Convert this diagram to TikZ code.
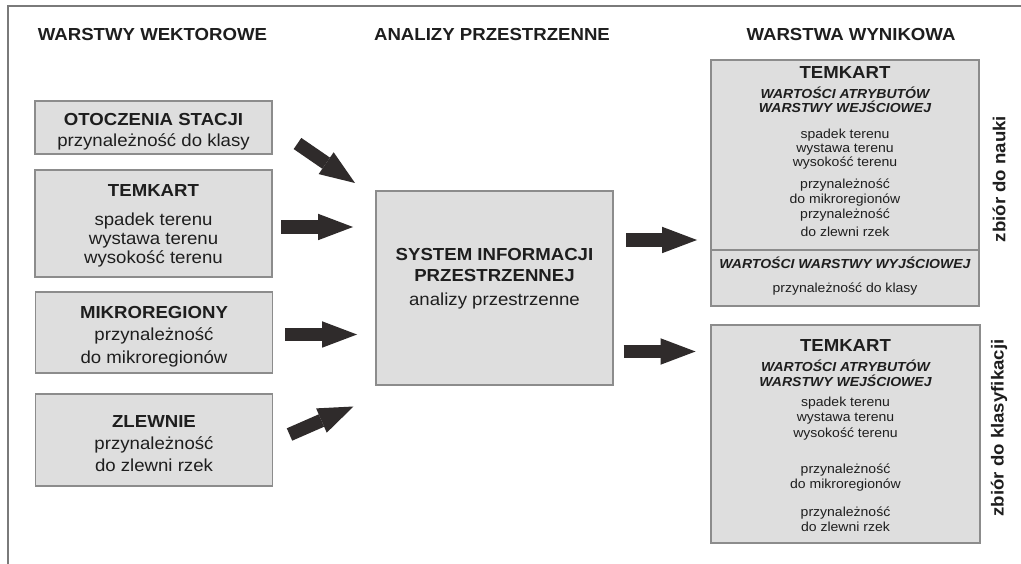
\documentclass[tikz,border=0pt]{standalone}
\usepackage{fontspec}
\setmainfont{Liberation Sans}[FakeStretch=1.07]
\usetikzlibrary{arrows.meta}
\definecolor{boxfill}{HTML}{DEDEDE}
\definecolor{boxdraw}{HTML}{8C8C8C}
\definecolor{arrowc}{HTML}{2F2B2B}
\definecolor{textc}{HTML}{1E1E1E}
\definecolor{framec}{HTML}{7A7A7A}
\begin{document}
\begin{tikzpicture}[x=1pt,y=-1pt,
  box/.style={draw=boxdraw, fill=boxfill, line width=1.1pt, inner sep=0pt},
  big/.style={font=\fontsize{17.4}{20}\selectfont, text=textc, inner sep=0pt, anchor=base},
  bigb/.style={font=\fontsize{17.4}{20}\selectfont\bfseries, text=textc, inner sep=0pt, anchor=base},
  sm/.style={font=\fontsize{13.1}{15}\selectfont, text=textc, inner sep=0pt, anchor=base},
  smbi/.style={font=\fontsize{13.1}{15}\selectfont\bfseries\itshape, text=textc, inner sep=0pt, anchor=base},
  side/.style={font=\fontsize{17.4}{20}\selectfont\bfseries, text=textc, inner sep=0pt, rotate=90},
  blockarrow/.style={draw=arrowc, line width=13.5pt, -{Triangle[length=35pt,width=26.5pt,line width=0pt]}}]

\useasboundingbox[fill=white] (0,0) rectangle (1021,564);

% frame
\draw[framec, line width=1.3pt] (1021,6) -| (8,564);

% headers
\node[bigb] (h1) at (152.5,41) {WARSTWY WEKTOROWE};
\node[bigb] (h2) at (492,41) {ANALIZY PRZESTRZENNE};
\node[bigb] (h3) at (851,41) {WARSTWA WYNIKOWA};

% left boxes
\node[box, minimum width=237pt, minimum height=53pt] (b1) at (153.5,127.5) {};
\node[box, minimum width=237pt, minimum height=107pt] (b2) at (153.5,223.5) {};
\node[box, minimum width=237pt, minimum height=81pt] (b3) at (154,332.5) {};
\node[box, minimum width=237pt, minimum height=92pt] (b4) at (154,440) {};

\node[bigb] (b1t) at (153.5,126) {OTOCZENIA STACJI};
\node[big] (b1a) at (153.5,146.5) {przynależność do klasy};

\node[bigb] (b2t) at (153.5,197) {TEMKART};
\node[big] (b2a) at (153.5,226) {spadek terenu};
\node[big] (b2b) at (153.5,245) {wystawa terenu};
\node[big] (b2c) at (153.5,264) {wysokość terenu};

\node[bigb] (b3t) at (154,319) {MIKROREGIONY};
\node[big] (b3a) at (154,341) {przynależność};
\node[big] (b3b) at (154,363) {do mikroregionów};

\node[bigb] (b4t) at (154,427) {ZLEWNIE};
\node[big] (b4a) at (154,449) {przynależność};
\node[big] (b4b) at (154,471) {do zlewni rzek};

% centre box
\node[box, minimum width=237pt, minimum height=194pt] (c) at (494.5,288) {};
\node[bigb] (ct1) at (494.5,261) {SYSTEM INFORMACJI};
\node[bigb] (ct2) at (494.5,282) {PRZESTRZENNEJ};
\node[big] (ct3) at (494.5,306) {analizy przestrzenne};

% right top box
\node[box, minimum width=268pt, minimum height=190pt] (r1a) at (845,155) {};
\node[box, minimum width=268pt, minimum height=56pt] (r1b) at (845,278) {};
\node[bigb] (r1t) at (845,79) {TEMKART};
\node[smbi] (r1i1) at (845,98.5) {WARTOŚCI ATRYBUTÓW};
\node[smbi] (r1i2) at (845,112.5) {WARSTWY WEJŚCIOWEJ};
\node[sm] (r1l1) at (845,138.5) {spadek terenu};
\node[sm] (r1l2) at (845,152.5) {wystawa terenu};
\node[sm] (r1l3) at (845,166.5) {wysokość terenu};
\node[sm] (r1l4) at (845,188.5) {przynależność};
\node[sm] (r1l5) at (845,203.5) {do mikroregionów};
\node[sm] (r1l6) at (845,218.5) {przynależność};
\node[sm] (r1l7) at (845,236.5) {do zlewni rzek};
\node[smbi] (r1o) at (845,268.5) {WARTOŚCI WARSTWY WYJŚCIOWEJ};
\node[sm] (r1k) at (845,293) {przynależność do klasy};

% right bottom box
\node[box, minimum width=269pt, minimum height=218pt] (r2) at (845.5,434) {};
\node[bigb] (r2t) at (845.5,351.5) {TEMKART};
\node[smbi] (r2i1) at (845.5,371) {WARTOŚCI ATRYBUTÓW};
\node[smbi] (r2i2) at (845.5,386) {WARSTWY WEJŚCIOWEJ};
\node[sm] (r2l1) at (845.5,406.5) {spadek terenu};
\node[sm] (r2l2) at (845.5,421.5) {wystawa terenu};
\node[sm] (r2l3) at (845.5,437) {wysokość terenu};
\node[sm] (r2l4) at (845.5,473) {przynależność};
\node[sm] (r2l5) at (845.5,488) {do mikroregionów};
\node[sm] (r2l6) at (845.5,516.5) {przynależność};
\node[sm] (r2l7) at (845.5,531.5) {do zlewni rzek};

% side labels
\node[side] (s1) at (999,179) {zbiór do nauki};
\node[side] (s2) at (999,428) {zbiór do klasyfikacji};

% arrows
\coordinate (a1s) at (297.5,143.5);
\coordinate (a1e) at (355,183);
\coordinate (a2s) at (281,227);
\coordinate (a2e) at (353,227);
\coordinate (a3s) at (285,334.5);
\coordinate (a3e) at (357,334.5);
\coordinate (a4s) at (289.5,434.5);
\coordinate (a4e) at (353.5,406.5);
\coordinate (a5s) at (626,240);
\coordinate (a5e) at (697,240);
\coordinate (a6s) at (623.5,351.5);
\coordinate (a6e) at (695.5,351.5);
\draw[blockarrow] (a1s) -- (a1e);
\draw[blockarrow] (a2s) -- (a2e);
\draw[blockarrow] (a3s) -- (a3e);
\draw[blockarrow] (a4s) -- (a4e);
\draw[blockarrow] (a5s) -- (a5e);
\draw[blockarrow] (a6s) -- (a6e);
\end{tikzpicture}
\end{document}
